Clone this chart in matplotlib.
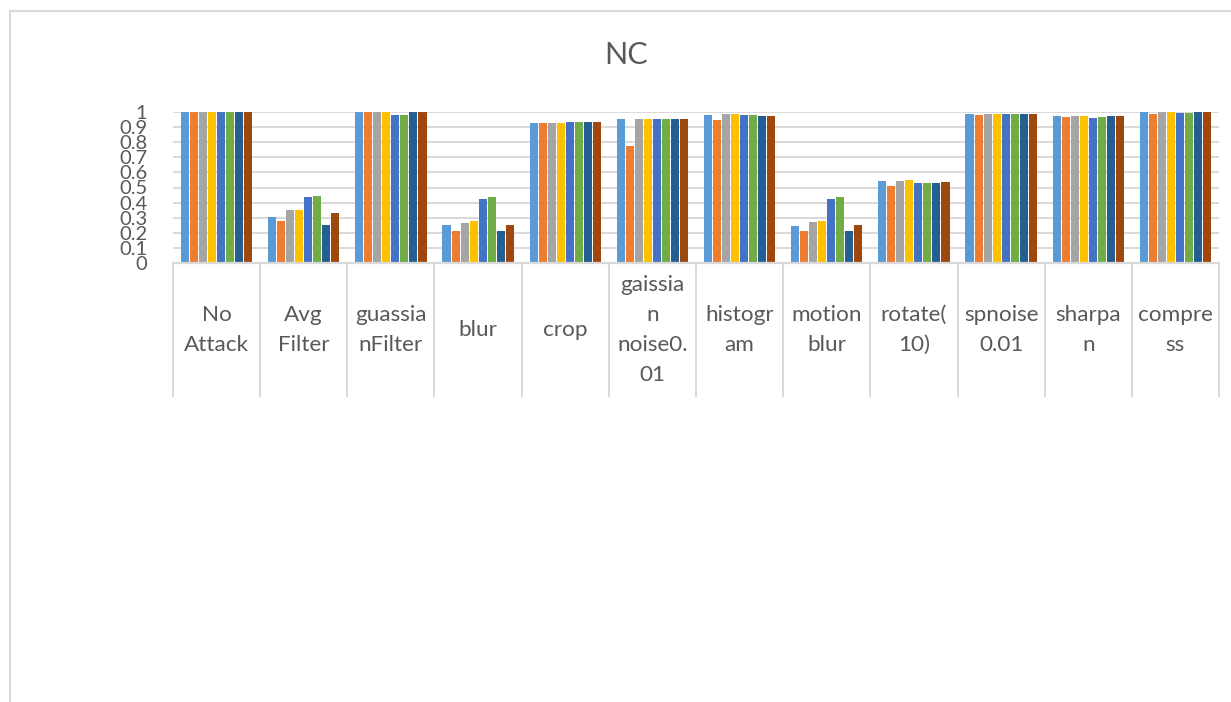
import numpy as np
import matplotlib
matplotlib.use("Agg")
import matplotlib.pyplot as plt
from matplotlib.lines import Line2D
from matplotlib.transforms import blended_transform_factory

plt.rcParams['font.family'] = ['Lato', 'DejaVu Sans']

categories = ["No\nAttack", "Avg\nFilter", "guassia\nnFilter", "blur", "crop",
              "gaissia\nn\nnoise0.\n01", "histogr\nam", "motion\nblur",
              "rotate(\n10)", "spnoise\n0.01", "sharpa\nn", "compre\nss"]

# NC values per attack, one list per watermark series
series_1 = [1.000, 0.302, 1.000, 0.249, 0.925, 0.951, 0.978, 0.243, 0.541, 0.985, 0.971, 1.000]
series_2 = [1.000, 0.276, 1.000, 0.210, 0.925, 0.773, 0.945, 0.210, 0.508, 0.978, 0.965, 0.985]
series_3 = [1.000, 0.349, 1.000, 0.263, 0.925, 0.951, 0.985, 0.269, 0.541, 0.985, 0.971, 1.000]
series_4 = [1.000, 0.349, 1.000, 0.276, 0.925, 0.951, 0.985, 0.276, 0.547, 0.985, 0.971, 1.000]
series_5 = [1.000, 0.435, 0.978, 0.422, 0.932, 0.951, 0.978, 0.422, 0.528, 0.985, 0.958, 0.991]
series_6 = [1.000, 0.441, 0.978, 0.435, 0.932, 0.951, 0.978, 0.435, 0.528, 0.985, 0.965, 0.991]
series_7 = [1.000, 0.249, 1.000, 0.210, 0.932, 0.951, 0.971, 0.210, 0.528, 0.985, 0.971, 1.000]
series_8 = [1.000, 0.329, 1.000, 0.249, 0.932, 0.951, 0.971, 0.249, 0.534, 0.985, 0.971, 1.000]

all_series = [series_1, series_2, series_3, series_4,
              series_5, series_6, series_7, series_8]
colors = ['#5B9BD5', '#ED7D31', '#A5A5A5', '#FFC000',
          '#4472C4', '#70AD47', '#255E91', '#9E480E']

yticks = [0, 0.1, 0.2, 0.3, 0.4, 0.5, 0.6, 0.7, 0.8, 0.9, 1]
ytick_labels = ["0", "0.1", "0.2", "0.3", "0.4", "0.5", "0.6", "0.7", "0.8", "0.9", "1"]

W, H = 1231, 702
fig = plt.figure(figsize=(W / 100, H / 100), dpi=100)
ax = fig.add_axes([173 / W, 1 - 263 / H, (1219 - 173) / W, (263 - 112) / H])

grid_c = '#D9D9D9'
text_c = '#595959'

x = np.arange(len(categories))
step = 0.1035
width = 0.092
for k, (vals, c) in enumerate(zip(all_series, colors)):
    offs = (k - 3.5) * step
    ax.bar(x + offs, vals, width=width, color=c, zorder=3)

ax.set_xlim(-0.5, len(categories) - 0.5)
ax.set_ylim(0, 1)
ax.set_yticks(yticks)
ax.set_yticklabels(ytick_labels)
ax.tick_params(axis='y', length=0, pad=18.5, labelsize=14.5, labelcolor=text_c)
ax.yaxis.grid(True, color=grid_c, linewidth=1.4, zorder=0)
ax.set_axisbelow(True)
for s in ['left', 'right', 'top']:
    ax.spines[s].set_visible(False)
ax.spines['bottom'].set_color(grid_c)
ax.spines['bottom'].set_linewidth(1.6)
ax.spines['bottom'].set_zorder(4)

# category cells: boundary ticks hanging below the axis
ax.set_xticks(x)
ax.set_xticklabels([])
ax.tick_params(axis='x', which='major', length=0)
ax.set_xticks(np.arange(-0.5, len(categories)), minor=True)
ax.tick_params(axis='x', which='minor', length=96.5, width=1.4,
               color=grid_c, direction='out')

tr = blended_transform_factory(ax.transData, fig.transFigure)
for xi, lab in zip(x, categories):
    ax.text(xi, 1 - 330 / H, lab, transform=tr, ha='center', va='center',
            fontsize=16.2, color=text_c, linespacing=1.62, multialignment='center')

fig.text(626 / W, 1 - 55 / H, "NC", ha='center', va='center',
         fontsize=22, color=text_c)

# chart area border (top and left edges)
fig.add_artist(Line2D([9.5 / W, 1.0], [1 - 10.5 / H, 1 - 10.5 / H],
                      transform=fig.transFigure, color=grid_c, linewidth=1.5))
fig.add_artist(Line2D([9.5 / W, 9.5 / W], [0, 1 - 10.5 / H],
                      transform=fig.transFigure, color=grid_c, linewidth=1.5))

fig.savefig("out.png", dpi=100, facecolor='white')
